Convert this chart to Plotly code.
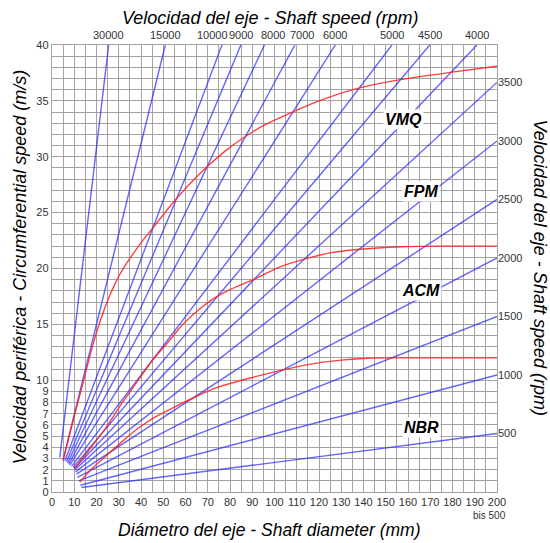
import math
import plotly.graph_objects as go

# ---------------- data ----------------
rpm = [30000, 15000, 10000, 9000, 8000, 7000, 6000, 5000, 4500, 4000,
       3500, 3000, 2500, 2000, 1500, 1000, 500]
# where each speed line starts
start_d = [3.5, 5.0, 5.8, 6.5, 7.0, 7.5, 8.0, 8.8, 9.5, 10.0,
           10.3, 10.6, 11.0, 11.4, 12.0, 12.8, 13.2]
start_v = [3.1, 2.9, 2.8, 2.7, 2.6, 2.5, 2.4, 2.3, 2.2, 2.1,
           2.0, 1.8, 1.6, 1.3, 1.0, 0.6, 0.4]

vmq_d = [4.95, 10, 14, 18, 22, 26, 30, 35, 40, 44.8, 55.3, 66.5, 77.8,
         86, 96, 107, 120, 137, 156.6, 180.6, 200]
vmq_v = [2.8, 6.8, 9.8, 12.9, 15.5, 17.6, 19.3, 20.9, 22.3, 23.5, 26.1, 28.5,
         30.5, 31.7, 32.9, 33.9, 35.0, 36.1, 36.9, 37.6, 38.1]

fpm_d = [10.2, 16, 23.7, 31.3, 37.3, 44.8, 53, 58.3, 66.5, 71.8, 80, 90.5,
         102, 114.6, 125, 137, 157, 175, 200]
fpm_v = [2.1, 3.6, 5.6, 7.9, 9.6, 11.7, 13.6, 14.9, 16.4, 17.2, 18.1, 19.0,
         20.1, 20.9, 21.4, 21.7, 21.95, 22.0, 22.0]

acm_d = [12.5, 18, 25.2, 32, 38.7, 46.3, 55, 64.3, 74.8, 91, 101, 115, 130,
         140, 150, 200]
acm_v = [0.9, 2.1, 3.4, 4.6, 5.7, 6.7, 7.6, 8.5, 9.4, 10.3, 10.8, 11.4, 11.8,
         11.95, 12.0, 12.0]

material_names = ["VMQ", "FPM", "ACM", "NBR"]
material_d = [158, 166, 166, 166]
material_v = [33.3, 26.9, 18.0, 5.8]

x_ticks = list(range(0, 201, 10))
y_ticks = list(range(0, 11)) + [15, 20, 25, 30, 35, 40]

D_MAX, V_MAX = 200, 40

# ---------------- styles ----------------
FONT = "Liberation Sans, Arial, sans-serif"
GRID = "#a3a3a3"
BLUE = "rgba(35,35,255,0.70)"
RED = "rgba(255,30,30,0.85)"
TICKC = "#333333"
top_label_shift = {10000: -9, 8000: 9, 7000: 7}

fig = go.Figure()

# speed lines
xs, ys = [], []
top_labels, right_vals, right_text = [], [], []
for n, d0, v0 in zip(rpm, start_d, start_v):
    d_end = min(D_MAX, V_MAX * 60000 / (math.pi * n))
    v_end = math.pi * d_end * n / 60000
    xs += [d0, d_end, None]
    ys += [v0, v_end, None]
    if d_end < D_MAX:
        top_labels.append((n, d_end))
    else:
        right_vals.append(v_end)
        right_text.append(str(n))

fig.add_trace(go.Scatter(x=xs, y=ys, mode="lines",
                         line=dict(color=BLUE, width=1.4),
                         hoverinfo="skip", showlegend=False))

for dd, vv in [(vmq_d, vmq_v), (fpm_d, fpm_v), (acm_d, acm_v)]:
    fig.add_trace(go.Scatter(x=dd, y=vv, mode="lines",
                             line=dict(color=RED, width=1.4, shape="spline",
                                       smoothing=0.7),
                             hoverinfo="skip", showlegend=False))

# right axis carrier
fig.add_trace(go.Scatter(x=[0], y=[0], yaxis="y2", mode="markers",
                         marker=dict(opacity=0), hoverinfo="skip",
                         showlegend=False))

annotations = []
for n, d_end in top_labels:
    annotations.append(dict(x=d_end, y=1, xref="x", yref="paper",
                            text=str(n), showarrow=False, yanchor="bottom",
                            xanchor="center", yshift=2,
                            xshift=top_label_shift.get(n, 0),
                            font=dict(family=FONT, size=11, color=TICKC)))

for name, d, v in zip(material_names, material_d, material_v):
    annotations.append(dict(x=d, y=v, xref="x", yref="y",
                            text="<b><i>%s</i></b>" % name, showarrow=False,
                            bgcolor="white", borderpad=1,
                            font=dict(family=FONT, size=16, color="black")))

title_font = dict(family=FONT, size=18, color="black")
annotations += [
    dict(x=0.49, y=1.0615, xref="paper", yref="paper", showarrow=False,
         xanchor="center", yanchor="middle",
         text="<i>Velocidad del eje - Shaft speed (rpm)</i>", font=title_font),
    dict(x=0.487, y=-0.0857, xref="paper", yref="paper", showarrow=False,
         xanchor="center", yanchor="middle",
         text="<i>Diámetro del eje - Shaft diameter (mm)</i>",
         font=dict(family=FONT, size=17.5, color="black")),
    dict(x=-0.0727, y=0.502, xref="paper", yref="paper", showarrow=False,
         xanchor="center", yanchor="middle", textangle=-90,
         text="<i>Velocidad periférica - Circumferential speed (m/s)</i>",
         font=title_font),
    dict(x=1.097, y=0.502, xref="paper", yref="paper", showarrow=False,
         xanchor="center", yanchor="middle", textangle=90,
         text="<i>Velocidad del eje - Shaft speed (rpm)</i>", font=title_font),
    dict(x=D_MAX, y=-0.052, xref="x", yref="paper", showarrow=False,
         xanchor="center", yanchor="middle", xshift=-8, text="bis 500",
         font=dict(family=FONT, size=10, color=TICKC)),
]

fig.update_layout(
    width=550, height=543,
    margin=dict(l=52, r=53, t=45, b=51),
    paper_bgcolor="white", plot_bgcolor="white",
    showlegend=False,
    annotations=annotations,
    xaxis=dict(range=[0, D_MAX], tickmode="array", tickvals=x_ticks,
               ticktext=[str(t) for t in x_ticks], tickangle=0,
               showgrid=True, gridcolor=GRID, gridwidth=1.4,
               minor=dict(tickmode="linear", tick0=0, dtick=5,
                          showgrid=True, gridcolor=GRID, gridwidth=1.4),
               showline=True, linecolor=GRID, linewidth=1.4, mirror=True,
               zeroline=False, ticks="", ticklen=0,
               tickfont=dict(family=FONT, size=11, color=TICKC)),
    yaxis=dict(range=[0, V_MAX], tickmode="array", tickvals=y_ticks,
               ticktext=[str(t) for t in y_ticks],
               showgrid=True, gridcolor=GRID, gridwidth=1.4,
               minor=dict(tickmode="linear", tick0=0, dtick=1,
                          showgrid=True, gridcolor=GRID, gridwidth=1.4),
               showline=True, linecolor=GRID, linewidth=1.4, mirror=True,
               zeroline=False, ticks="",
               tickfont=dict(family=FONT, size=11, color=TICKC)),
    yaxis2=dict(range=[0, V_MAX], overlaying="y", side="right",
                tickmode="array", tickvals=right_vals, ticktext=right_text,
                showgrid=False, zeroline=False, ticks="",
                tickfont=dict(family=FONT, size=11, color=TICKC)),
)

# remove the default page margin so the 550x543 figure fills the window
fig.write_html("out.html",
               config={"displayModeBar": False},
               post_script="document.body.style.margin='0px';"
                           "document.documentElement.style.overflow='hidden';")
